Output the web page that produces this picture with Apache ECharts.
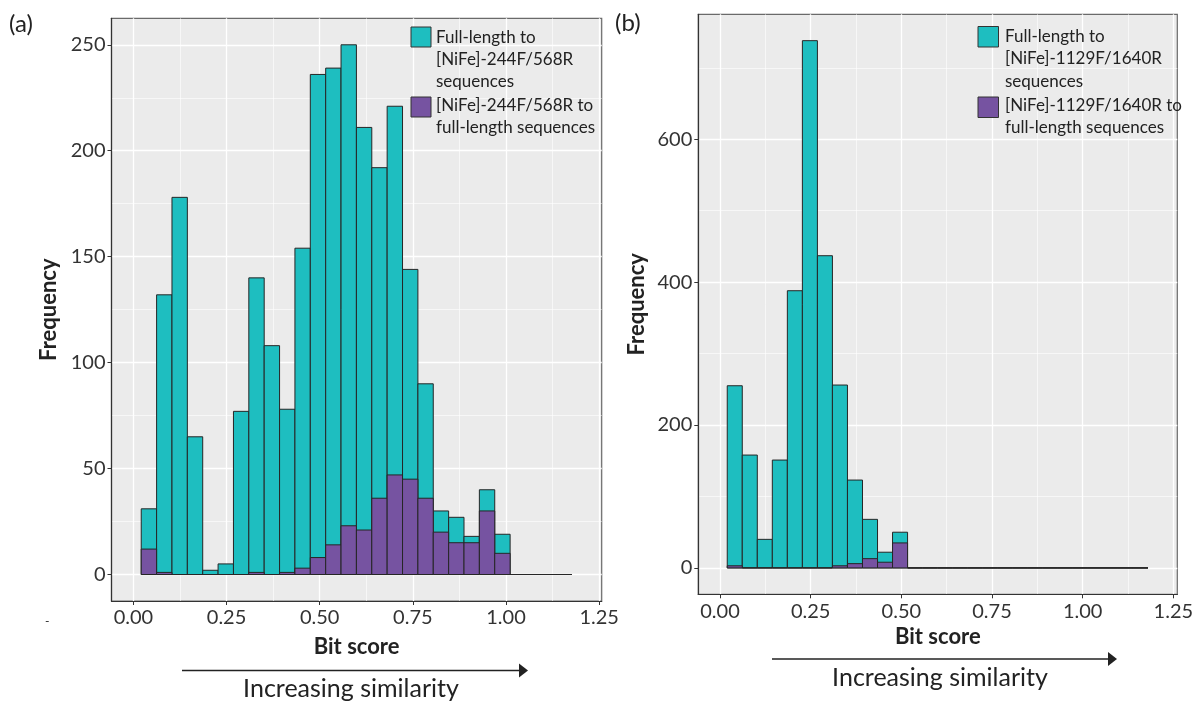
<!DOCTYPE html>
<html><head><meta charset="utf-8">
<script src="https://cdn.jsdelivr.net/npm/echarts@6/dist/echarts.min.js"></script>
<style>html,body{margin:0;padding:0;background:#fff}#c{width:1198px;height:705px}</style>
</head><body><div id="c"></div>
<script>
// ---- data ----
const binStartA = 0.021, binWidthA = 0.04125;
const fullToAmpA = [31,132,178,65,2,5,77,140,108,78,154,236,239,250,211,192,221,144,90,30,27,18,40,19,0,0,0,0];
const ampToFullA = [12,1,0,0,0,0,0,1,0,1,3,8,14,23,21,36,47,45,36,20,15,15,30,10,0,0,0,0];
const binStartB = 0.020, binWidthB = 0.04143;
const fullToAmpB = [255,158,40,151,388,738,437,256,123,68,22,50,0,0,0,0,0,0,0,0,0,0,0,0,0,0,0,0];
const ampToFullB = [3,0,0,0,0,0,0,3,6,13,8,35,0,0,0,0,0,0,0,0,0,0,0,0,0,0,0,0];
const xTicks = [0, 0.25, 0.5, 0.75, 1.0, 1.25];
const xTickLabels = ['0.00','0.25','0.50','0.75','1.00','1.25'];
const xMinorTicks = [0.125, 0.375, 0.625, 0.875, 1.125];
const yTicksA = [0,50,100,150,200,250];
const yMinorA = [25,75,125,175,225];
const yTicksB = [0,200,400,600];
const yMinorB = [100,300,500,700];
const legendA = ['Full-length to\n[NiFe]-244F/568R\nsequences', '[NiFe]-244F/568R to\nfull-length sequences'];
const legendB = ['Full-length to\n[NiFe]-1129F/1640R\nsequences', '[NiFe]-1129F/1640R to\nfull-length sequences'];
const colors = ['#1EBEC0', '#7653A1'];

// ---- helpers ----
function bins(start, width, counts) {
  return counts.map((c, i) => [start + i * width, start + (i + 1) * width, c]);
}
function renderBins(color) {
  return function (params, api) {
    const p0 = api.coord([api.value(0), 0]);
    const p1 = api.coord([api.value(1), api.value(2)]);
    return {
      type: 'rect',
      shape: { x: p0[0], y: p1[1], width: p1[0] - p0[0], height: p0[1] - p1[1] },
      style: { fill: color, stroke: '#262626', lineWidth: 1 }
    };
  };
}
const FONT = 'Lato';
function mainX(gi, min, max, gap) {
  return {
    type: 'value', gridIndex: gi, min: min, max: max, position: 'bottom',
    axisLine: { show: true, onZero: false, lineStyle: { color: '#333', width: 1.2 } },
    axisTick: { show: true, length: 4, lineStyle: { color: '#333' }, customValues: xTicks },
    axisLabel: { customValues: xTicks, formatter: v => xTickLabels[xTicks.indexOf(v)],
      fontFamily: FONT, fontSize: 20, color: '#333', margin: 7 },
    splitLine: { show: true, lineStyle: { color: '#fff', width: 1.3 } },
    name: 'Bit score', nameLocation: 'middle', nameGap: gap,
    nameTextStyle: { fontFamily: FONT, fontWeight: 'bold', fontSize: 22, color: '#222' }
  };
}
function minorX(gi, min, max) {
  return {
    type: 'value', gridIndex: gi, min: min, max: max, show: true,
    axisLine: { show: false }, axisTick: { show: false, customValues: xMinorTicks },
    axisLabel: { show: false },
    splitLine: { show: true, lineStyle: { color: '#fff', width: 0.6 } }
  };
}
function mainY(gi, min, max, ticks, gap) {
  return {
    type: 'value', gridIndex: gi, min: min, max: max, position: 'left',
    axisLine: { show: true, onZero: false, lineStyle: { color: '#333', width: 1.2 } },
    axisTick: { show: true, length: 4, lineStyle: { color: '#333' }, customValues: ticks },
    axisLabel: { customValues: ticks, fontFamily: FONT, fontSize: 20, color: '#333', margin: 6 },
    splitLine: { show: true, lineStyle: { color: '#fff', width: 1.3 } },
    name: 'Frequency', nameLocation: 'middle', nameGap: gap,
    nameTextStyle: { fontFamily: FONT, fontWeight: 'bold', fontSize: 22, color: '#222' }
  };
}
function minorY(gi, min, max, ticks) {
  return {
    type: 'value', gridIndex: gi, min: min, max: max, show: true,
    axisLine: { show: false }, axisTick: { show: false, customValues: ticks },
    axisLabel: { show: false },
    splitLine: { show: true, lineStyle: { color: '#fff', width: 0.6 } }
  };
}
function txt(x, y, text, size, opts) {
  return Object.assign({ type: 'text', x: x, y: y, z: 10,
    style: { text: text, fill: '#222', font: (opts && opts.weight ? opts.weight + ' ' : '') + size + 'px ' + FONT,
      align: (opts && opts.align) || 'left', verticalAlign: (opts && opts.va) || 'middle',
      lineHeight: (opts && opts.lh) || size } });
}
function arrow(x0, x1, y) {
  return [
    { type: 'line', z: 10, shape: { x1: x0, y1: y, x2: x1 - 8, y2: y }, style: { stroke: '#222', lineWidth: 1.4 } },
    { type: 'polygon', z: 10, shape: { points: [[x1 - 9, y - 7], [x1, y], [x1 - 9, y + 7]] }, style: { fill: '#222' } }
  ];
}
function legend(x, sq, tx, y1, y2, labels) {
  return [
    { type: 'rect', z: 10, shape: { x: x, y: y1, width: sq, height: sq }, style: { fill: colors[0], stroke: '#333', lineWidth: 1 } },
    { type: 'rect', z: 10, shape: { x: x, y: y2, width: sq, height: sq }, style: { fill: colors[1], stroke: '#333', lineWidth: 1 } },
    txt(tx, y1 - 1, labels[0], 17, { va: 'top', lh: 22.3 }),
    txt(tx, y2 - 2, labels[1], 17, { va: 'top', lh: 21.5 })
  ];
}

const option = {
  animation: false,
  grid: [
    { left: 111.5, top: 18.3, width: 490.2, height: 582.7, show: true, backgroundColor: '#EBEBEB',
      borderColor: '#6a6a6a', borderWidth: 1.2, containLabel: false, outerBoundsMode: 'none' },
    { left: 698.3, top: 14.3, width: 479, height: 580, show: true, backgroundColor: '#EBEBEB',
      borderColor: '#6a6a6a', borderWidth: 1.2, containLabel: false, outerBoundsMode: 'none' }
  ],
  xAxis: [
    mainX(0, -0.0588, 1.2568, 35),
    minorX(0, -0.0588, 1.2568),
    mainX(1, -0.0598, 1.2608, 32),
    minorX(1, -0.0598, 1.2608)
  ],
  yAxis: [
    mainY(0, -12.5, 262.5, yTicksA, 52),
    minorY(0, -12.5, 262.5, yMinorA),
    mainY(1, -36.9, 774.9, yTicksB, 50),
    minorY(1, -36.9, 774.9, yMinorB)
  ],
  series: [
    { type: 'custom', name: 'fullA', xAxisIndex: 0, yAxisIndex: 0, renderItem: renderBins(colors[0]),
      encode: { x: [0, 1], y: 2 }, data: bins(binStartA, binWidthA, fullToAmpA), z: 2 },
    { type: 'custom', name: 'ampA', xAxisIndex: 0, yAxisIndex: 0, renderItem: renderBins(colors[1]),
      encode: { x: [0, 1], y: 2 }, data: bins(binStartA, binWidthA, ampToFullA), z: 3 },
    { type: 'custom', name: 'fullB', xAxisIndex: 2, yAxisIndex: 2, renderItem: renderBins(colors[0]),
      encode: { x: [0, 1], y: 2 }, data: bins(binStartB, binWidthB, fullToAmpB), z: 2 },
    { type: 'custom', name: 'ampB', xAxisIndex: 2, yAxisIndex: 2, renderItem: renderBins(colors[1]),
      encode: { x: [0, 1], y: 2 }, data: bins(binStartB, binWidthB, ampToFullB), z: 3 }
  ],
  graphic: [].concat(
    [txt(9, 24, '(a)', 24), txt(615, 23, '(b)', 24), txt(45, 621, '-', 12, { })],
    legend(411, 20, 436, 27, 97, legendA),
    legend(978, 20.5, 1005, 26.5, 97, legendB),
    arrow(182, 528, 670.5),
    arrow(772, 1117, 659),
    [txt(351, 689, 'Increasing similarity', 25, { align: 'center' }),
     txt(940, 678, 'Increasing similarity', 25, { align: 'center' })]
  )
};
const chart = echarts.init(document.getElementById('c'), null, { renderer: 'canvas' });
chart.setOption(option);
</script></body></html>
